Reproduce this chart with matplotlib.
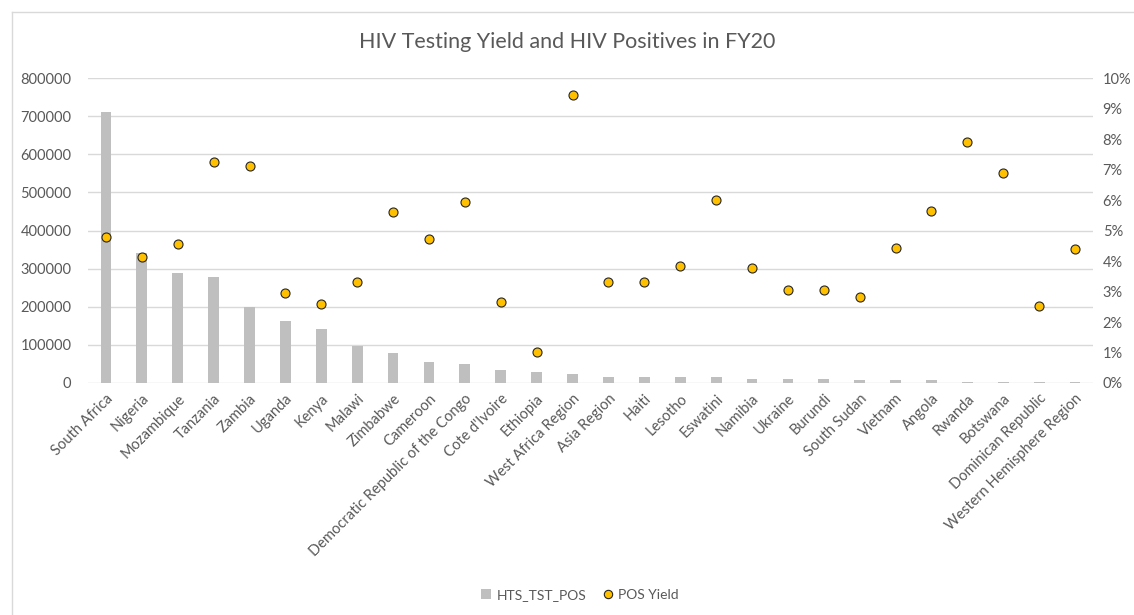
import matplotlib
matplotlib.use("Agg")
import matplotlib.pyplot as plt
from matplotlib.ticker import FuncFormatter
from matplotlib.lines import Line2D
from matplotlib.patches import Patch

categories = ["South Africa", "Nigeria", "Mozambique", "Tanzania", "Zambia", "Uganda",
              "Kenya", "Malawi", "Zimbabwe", "Cameroon", "Democratic Republic of the Congo",
              "Cote d'Ivoire", "Ethiopia", "West Africa Region", "Asia Region", "Haiti",
              "Lesotho", "Eswatini", "Namibia", "Ukraine", "Burundi", "South Sudan",
              "Vietnam", "Angola", "Rwanda", "Botswana", "Dominican Republic",
              "Western Hemisphere Region"]
hts_tst_pos = [712000, 340000, 288000, 277000, 200000, 163000, 141000, 98000, 78000,
               54000, 50000, 34000, 29000, 24000, 17000, 17000, 17000, 17000, 11000,
               11000, 11000, 7000, 7000, 7000, 2000, 2000, 2000, 2000]
pos_yield = [4.80, 4.14, 4.56, 7.24, 7.11, 2.94, 2.59, 3.30, 5.62, 4.72, 5.92, 2.65,
             1.03, 9.45, 3.30, 3.30, 3.85, 5.99, 3.78, 3.06, 3.06, 2.82, 4.44, 5.63,
             7.90, 6.89, 2.52, 4.38]
left_ticks = [0, 100000, 200000, 300000, 400000, 500000, 600000, 700000, 800000]
right_ticks = [0, 1, 2, 3, 4, 5, 6, 7, 8, 9, 10]

plt.rcParams['font.family'] = ['Lato', 'DejaVu Sans']
txt = '#595959'
W, H = 1134, 615
fig = plt.figure(figsize=(W / 100, H / 100), dpi=100)
ax = fig.add_axes([88 / W, 1 - 383 / H, (1093 - 88) / W, (383 - 78) / H])
ax2 = ax.twinx()

x = list(range(len(categories)))
ax.bar(x, hts_tst_pos, width=0.3, color='#BFBFBF', zorder=2)
ax.set_ylim(0, 800000)
ax.set_yticks(left_ticks)
ax.set_yticklabels([str(v) for v in left_ticks])
ax.set_xlim(-0.5, len(categories) - 0.5)
ax.grid(axis='y', color='#D9D9D9', linewidth=1, zorder=0)
ax.set_axisbelow(True)
ax.set_xticks(x)
ax.set_xticklabels(categories, rotation=45, ha='right', rotation_mode='anchor',
                   fontsize=10.5, color=txt)
ax.tick_params(axis='y', labelsize=10.5, labelcolor=txt, length=0, pad=12)
ax.tick_params(axis='x', length=0, pad=6)

ax2.plot(x, pos_yield, linestyle='none', marker='o', markersize=6.5,
         markerfacecolor='#FFC000', markeredgecolor='#262626', markeredgewidth=0.8, zorder=3)
ax2.set_ylim(0, 10)
ax2.set_yticks(right_ticks)
ax2.yaxis.set_major_formatter(FuncFormatter(lambda v, p: f"{int(round(v))}%"))
ax2.tick_params(axis='y', labelsize=10.5, labelcolor=txt, length=0, pad=7)

for a in (ax, ax2):
    for s in a.spines.values():
        s.set_visible(False)

fig.text(0.5, 1 - 42 / H, "HIV Testing Yield and HIV Positives in FY20",
         ha='center', va='center', fontsize=15.5, color=txt)

handles = [Patch(facecolor='#BFBFBF', edgecolor='none'),
           Line2D([], [], linestyle='none', marker='o', markersize=6,
                  markerfacecolor='#FFC000', markeredgecolor='#262626', markeredgewidth=0.8)]
fig.legend(handles, ["HTS_TST_POS", "POS Yield"], loc='center',
           bbox_to_anchor=(580 / W, 1 - 595 / H), ncol=2, frameon=False,
           fontsize=10, labelcolor=txt, handlelength=0.7, handletextpad=0.4,
           columnspacing=1.2)

# chart border
fig.add_artist(Line2D([12 / W, 12 / W], [0, 1 - 12 / H], transform=fig.transFigure,
                      color='#D9D9D9', linewidth=1))
fig.add_artist(Line2D([12 / W, 1], [1 - 12 / H, 1 - 12 / H], transform=fig.transFigure,
                      color='#D9D9D9', linewidth=1))

fig.savefig("out.png", dpi=100)
